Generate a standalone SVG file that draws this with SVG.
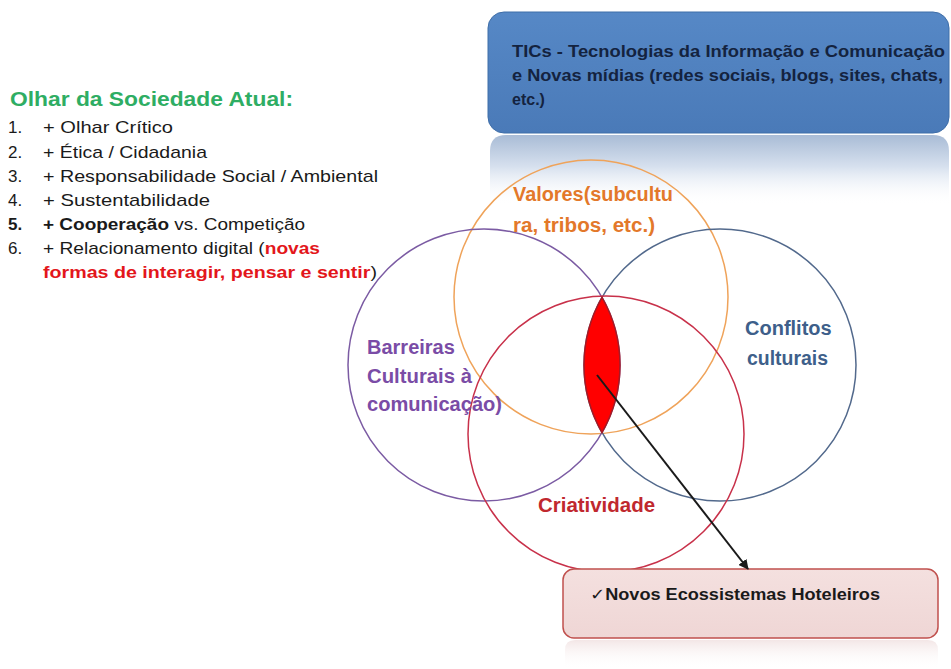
<svg xmlns="http://www.w3.org/2000/svg" width="951" height="669" viewBox="0 0 951 669">
<defs>
<style>
.lst{font-family:"Liberation Sans",Arial,sans-serif;font-size:17px;fill:#1a1a1a}
.b{font-weight:bold}
.red{fill:#E3161B;font-weight:bold}
.lbl{font-family:"Liberation Sans",Arial,sans-serif;font-size:20px;font-weight:bold}
.circ{fill:none;stroke-width:1.5}
.top{font-family:"Liberation Sans",Arial,sans-serif;font-size:16px;font-weight:bold;fill:#14233f}
</style>
<linearGradient id="gTop" x1="0" y1="0" x2="0" y2="1">
<stop offset="0" stop-color="#5688c6"/>
<stop offset="1" stop-color="#4a7ab8"/>
</linearGradient>
<linearGradient id="gRefl" x1="0" y1="0" x2="0" y2="1">
<stop offset="0" stop-color="#a9bcd6"/>
<stop offset="0.45" stop-color="#d6e0ee"/>
<stop offset="1" stop-color="#ffffff" stop-opacity="0"/>
</linearGradient>
<linearGradient id="gBot" x1="0" y1="0" x2="0" y2="1">
<stop offset="0" stop-color="#f4e0df"/>
<stop offset="1" stop-color="#efd6d5"/>
</linearGradient>
<linearGradient id="gRefl2" x1="0" y1="0" x2="0" y2="1">
<stop offset="0" stop-color="#f3e6e6"/>
<stop offset="1" stop-color="#ffffff" stop-opacity="0"/>
</linearGradient>
<marker id="arr" viewBox="0 0 10 10" refX="9" refY="5" markerWidth="5" markerHeight="5" orient="auto">
<path d="M0,0 L10,5 L0,10 z" fill="#1a1a1a"/>
</marker>
</defs>
<rect width="951" height="669" fill="#ffffff"/>

<g id="sociedade">
<text x="10" y="106" font-family="Liberation Sans,Arial,sans-serif" font-size="21" font-weight="bold" fill="#2EAD63" textLength="283" lengthAdjust="spacingAndGlyphs">Olhar da Sociedade Atual:</text>
<text class="lst" x="8" y="133">1.</text>
<text class="lst" x="8" y="158">2.</text>
<text class="lst" x="8" y="182">3.</text>
<text class="lst" x="8" y="206">4.</text>
<text class="lst b" x="8" y="230">5.</text>
<text class="lst" x="8" y="254">6.</text>
<text class="lst" x="43" y="133" textLength="130" lengthAdjust="spacingAndGlyphs">+ Olhar Crítico</text>
<text class="lst" x="43" y="158" textLength="164" lengthAdjust="spacingAndGlyphs">+ Ética / Cidadania</text>
<text class="lst" x="43" y="182" textLength="335" lengthAdjust="spacingAndGlyphs">+ Responsabilidade Social / Ambiental</text>
<text class="lst" x="43" y="206" textLength="167" lengthAdjust="spacingAndGlyphs">+ Sustentabilidade</text>
<text class="lst" x="43" y="230" textLength="262" lengthAdjust="spacingAndGlyphs"><tspan class="b">+ Cooperação</tspan> vs. Competição</text>
<text class="lst" x="43" y="254" textLength="277" lengthAdjust="spacingAndGlyphs">+ Relacionamento digital (<tspan class="red">novas</tspan></text>
<text class="lst" x="43" y="278" textLength="334" lengthAdjust="spacingAndGlyphs"><tspan class="red">formas de interagir, pensar e sentir</tspan>)</text>
</g>

<g id="tics">
<path d="M506,135 L933,135 Q949,135 949,151 L949,205 L490,205 L490,151 Q490,135 506,135 Z" fill="url(#gRefl)"/>
<rect x="488" y="12" width="461" height="121" rx="16" fill="url(#gTop)" stroke="#3f6ea8" stroke-width="1"/>
<text class="top" x="512" y="57" textLength="433" lengthAdjust="spacingAndGlyphs">TICs - Tecnologias da Informação e Comunicação</text>
<text class="top" x="512" y="81" textLength="431" lengthAdjust="spacingAndGlyphs">e Novas mídias (redes sociais, blogs, sites, chats,</text>
<text class="top" x="512" y="105">etc.)</text>
</g>

<g id="valores">
<circle class="circ" cx="591" cy="297" r="137" stroke="#EFA35A"/>
</g>
<g id="barreiras">
<circle class="circ" cx="484" cy="365" r="136" stroke="#7B5BA3"/>
</g>
<g id="conflitos">
<circle class="circ" cx="720" cy="365" r="136" stroke="#52698C"/>
</g>
<g id="criatividade">
<circle class="circ" cx="606" cy="434" r="138" stroke="#C8314A"/>
</g>
<g id="intersecao">
<path d="M602,297.4 A136,136 0 0,1 602,432.6 A136,136 0 0,1 602,297.4 Z" fill="#FF0000" stroke="#A51A25" stroke-width="1.5"/>
</g>

<g id="labels">
<text class="lbl" x="513" y="201" fill="#E3782A" textLength="160" lengthAdjust="spacingAndGlyphs">Valores(subcultu</text>
<text class="lbl" x="513" y="232" fill="#E3782A" textLength="142" lengthAdjust="spacingAndGlyphs">ra, tribos, etc.)</text>
<text class="lbl" x="367" y="354" fill="#7A4CA6">Barreiras</text>
<text class="lbl" x="367" y="383" fill="#7A4CA6" textLength="105" lengthAdjust="spacingAndGlyphs">Culturais à</text>
<text class="lbl" x="367" y="411" fill="#7A4CA6" textLength="135" lengthAdjust="spacingAndGlyphs">comunicação)</text>
<text class="lbl" x="745" y="335" fill="#3E5F8A">Conflitos</text>
<text class="lbl" x="747" y="365" fill="#3E5F8A" textLength="81" lengthAdjust="spacingAndGlyphs">culturais</text>
<text class="lbl" x="538" y="512" fill="#C0282E" textLength="117" lengthAdjust="spacingAndGlyphs">Criatividade</text>
</g>

<g id="ecossistemas">
<path d="M575,640 L928,640 Q938,640 938,650 L938,669 L565,669 L565,650 Q565,640 575,640 Z" fill="url(#gRefl2)"/>
<rect x="563" y="569" width="375" height="69" rx="11" fill="url(#gBot)" stroke="#C0504D" stroke-width="1.5"/>
<text x="590" y="600" font-family="Liberation Sans,DejaVu Sans,sans-serif" font-size="16" font-weight="bold" fill="#1a1a1a" textLength="290" lengthAdjust="spacingAndGlyphs">✓Novos Ecossistemas Hoteleiros</text>
</g>

<g id="connectors">
<line x1="597" y1="375" x2="748" y2="569" stroke="#1a1a1a" stroke-width="2" marker-end="url(#arr)"/>
</g>
</svg>
